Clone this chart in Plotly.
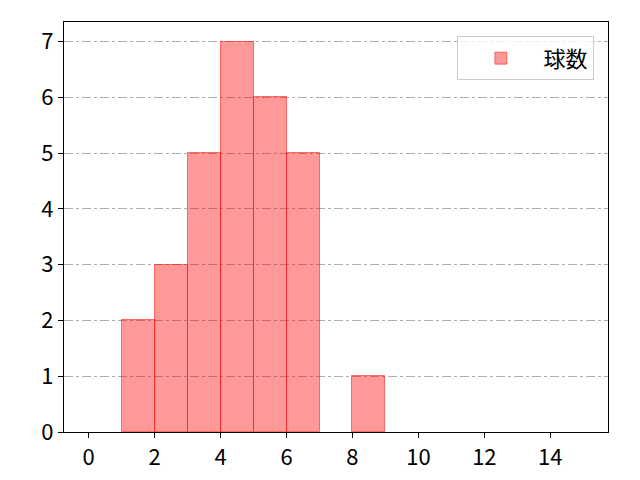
import plotly.graph_objects as go

# histogram bins (left edges) and counts
bin_left = [0, 1, 2, 3, 4, 5, 6, 7, 8, 9, 10, 11, 12, 13, 14]
counts = [0, 2, 3, 5, 7, 6, 5, 0, 1, 0, 0, 0, 0, 0, 0]
x_ticks = [0, 2, 4, 6, 8, 10, 12, 14]
y_ticks = [0, 1, 2, 3, 4, 5, 6, 7]

font = "'Noto Sans CJK JP', 'Noto Sans', 'DejaVu Sans'"

# empty bins are not drawn
xs = [b + 0.5 for b, c in zip(bin_left, counts) if c > 0]
ys = [c for c in counts if c > 0]

fig = go.Figure()
fig.add_trace(go.Bar(
    x=xs,
    y=ys,
    width=1,
    name="球数",
    marker=dict(color="rgba(255,0,0,0.4)", line=dict(color="rgba(255,0,0,0.5)", width=1)),
    showlegend=True,
))

# page body has an 8px margin, so the figure is offset by 8px
fig.update_layout(
    template="none",
    width=632, height=472,
    margin=dict(l=56, r=32, t=14, b=48, autoexpand=False),
    plot_bgcolor="white", paper_bgcolor="white",
    font=dict(family=font, size=22, color="black"),
    bargap=0,
    legend=dict(
        x=0.975, y=0.965, xanchor="right", yanchor="top",
        bordercolor="#cccccc", borderwidth=1, bgcolor="rgba(255,255,255,0.8)",
        font=dict(size=22), itemwidth=75,
    ),
    xaxis=dict(
        range=[-0.75, 15.75], tickvals=x_ticks, ticks="outside", ticklen=5,
        tickcolor="black", showgrid=False, showline=True, linecolor="black",
        linewidth=1.3, mirror=True, zeroline=False, automargin=False,
    ),
    yaxis=dict(
        range=[0, 7.35], tickvals=y_ticks, ticks="outside", ticklen=5,
        tickcolor="black", showgrid=True, gridcolor="#b0b0b0", griddash="dashdot",
        gridwidth=1, showline=True, linecolor="black", linewidth=1.3, mirror=True,
        zeroline=False, layer="above traces", automargin=False,
    ),
)

fig.write_html("out.html")
